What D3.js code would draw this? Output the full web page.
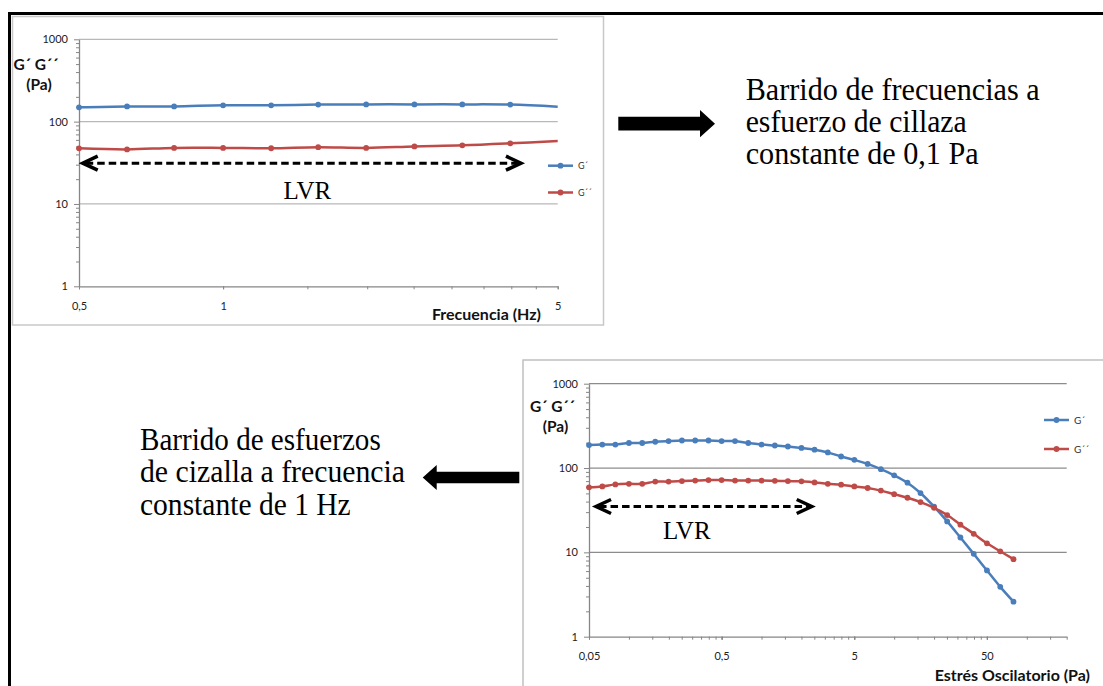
<!DOCTYPE html>
<html>
<head>
<meta charset="utf-8">
<script src="https://cdn.jsdelivr.net/npm/d3@7"></script>
<style>
  body { margin: 0; background: #fff; }
  .tick text { font-family: Lato, "Open Sans", sans-serif; font-size: 11px; fill: #222; }
</style>
</head>
<body>
<svg id="fig" width="1103" height="686"></svg>
<script>
// barrido de frecuencias, esfuerzo 0,1 Pa
const freq = [0.5, 0.63, 0.79, 1.0, 1.26, 1.58, 1.99, 2.51, 3.16, 3.98, 5.0];
const freqG1 = [149, 153, 153, 158, 158, 161, 162, 162, 162, 161, 152];
const freqG2 = [47.4, 46, 48, 48, 47.5, 49, 48, 50, 51.5, 54.5, 58.3];

// barrido de esfuerzos, 1 Hz
const stress = [0.05, 0.063, 0.079, 0.1, 0.126, 0.158, 0.199, 0.251, 0.316, 0.398, 0.5,
  0.631, 0.794, 1.0, 1.26, 1.58, 2.0, 2.51, 3.16, 3.98, 5.01, 6.31, 7.94, 10.0, 12.6,
  15.8, 20.0, 25.1, 31.6, 39.8, 50.1, 63.1, 79.4];
const stressG1 = [187, 190, 190, 198, 198, 205, 209, 212, 212, 212, 209, 209, 198, 190,
  185, 180, 173, 165, 153, 137, 125, 112, 97, 82, 67, 50.5, 34.8, 23.3, 15.0, 9.6, 6.1, 3.9, 2.6];
const stressG2 = [59, 60.5, 64, 65, 65, 69, 69, 70, 71, 72, 72, 71, 71, 71, 70.5, 70, 69.5,
  67.5, 65, 63.4, 60.5, 58, 54, 49, 44.4, 39.5, 33.8, 27.7, 21.3, 16.6, 12.8, 10.3, 8.3];

const seriesNames = ["G´", "G´´"];
const seriesColors = ["#4A7EBB", "#BE4B48"];
const yTicks = [1, 10, 100, 1000];
const yTickLabels = ["1", "10", "100", "1000"];
const freqTicks = [0.5, 1, 5];
const freqTickLabels = ["0,5", "1", "5"];
const stressTicks = [0.05, 0.5, 5, 50];
const stressTickLabels = ["0,05", "0,5", "5", "50"];

const topNote = ["Barrido de frecuencias a", "esfuerzo de cillaza", "constante de 0,1 Pa"];
const bottomNote = ["Barrido de esfuerzos", "de cizalla a frecuencia", "constante de 1 Hz"];

const svg = d3.select("#fig");
const sans = 'Lato, "Open Sans", sans-serif';
const serif = '"Liberation Serif", "Times New Roman", serif';

// marco negro exterior
svg.append("line").attr("x1", 8).attr("y1", 13.5).attr("x2", 1110).attr("y2", 13.5)
  .attr("stroke", "#000").attr("stroke-width", 3);
svg.append("line").attr("x1", 9.5).attr("y1", 12).attr("x2", 9.5).attr("y2", 700)
  .attr("stroke", "#000").attr("stroke-width", 3);

// marcos de los graficos
svg.append("rect").attr("x", 12.5).attr("y", 16.5).attr("width", 591).attr("height", 308.5)
  .attr("fill", "#fff").attr("stroke", "#c8c8c8").attr("stroke-width", 1.5);
svg.append("rect").attr("x", 523).attr("y", 360).attr("width", 600).attr("height", 400)
  .attr("fill", "#fff").attr("stroke", "#c0c0c0").attr("stroke-width", 1.5);

// minor ticks en log: multiplos del inicio de cada decada
function minorTicks(lo, hi) {
  const out = [];
  for (let s = lo; s < hi; s *= 10) {
    for (let k = 1; k <= 10; k++) {
      const v = s * k;
      if (v <= hi * 1.0001) out.push(v);
    }
  }
  return out;
}

function drawPanel(cfg) {
  const g = svg.append("g");
  const x = d3.scaleLog().domain(cfg.xDomain).range([cfg.left, cfg.right]);
  const y = d3.scaleLog().domain([1, 1000]).range([cfg.bottom, cfg.top]);

  // gridlines
  g.selectAll(".grid").data([10, 100, 1000]).join("line")
    .attr("x1", cfg.left).attr("x2", cfg.right)
    .attr("y1", d => y(d)).attr("y2", d => y(d))
    .attr("stroke", cfg.gridColor).attr("stroke-width", 1.3);

  // eje y: menores y mayores
  const yMinor = [];
  [1, 10, 100].forEach(d => { for (let k = 2; k <= 9; k++) yMinor.push(d * k); });
  g.append("g").attr("transform", `translate(${cfg.left},0)`)
    .call(d3.axisLeft(y).tickValues(yMinor).tickSize(3).tickFormat(""))
    .call(a => a.select(".domain").remove());
  g.append("g").attr("transform", `translate(${cfg.left},0)`)
    .call(d3.axisLeft(y).tickValues(yTicks).tickFormat((d, i) => yTickLabels[i])
      .tickSize(5).tickSizeOuter(0).tickPadding(6));

  // eje x
  g.append("g").attr("transform", `translate(0,${cfg.bottom})`)
    .call(d3.axisBottom(x).tickValues(minorTicks(cfg.xDomain[0], cfg.xDomain[1])).tickSize(3).tickFormat(""))
    .call(a => a.select(".domain").remove());
  g.append("g").attr("transform", `translate(0,${cfg.bottom})`)
    .call(d3.axisBottom(x).tickValues(cfg.xTicks).tickFormat((d, i) => cfg.xTickLabels[i])
      .tickSize(3).tickSizeOuter(0).tickPadding(13));

  g.selectAll(".domain").attr("stroke", "#868686").attr("stroke-width", 1.3);
  g.selectAll(".tick line").attr("stroke", "#868686");

  // titulos de ejes
  g.append("text").text("G´ G´´")
    .attr("x", cfg.left - cfg.yTitleDx).attr("y", cfg.top + cfg.yTitleDy)
    .attr("text-anchor", "middle").attr("font-family", sans)
    .attr("font-weight", "bold").attr("font-size", 15.5).attr("fill", "#111");
  g.append("text").text("(Pa)")
    .attr("x", cfg.left - cfg.yTitleDx + 3).attr("y", cfg.top + cfg.yTitleDy + 20)
    .attr("text-anchor", "middle").attr("font-family", sans)
    .attr("font-weight", "bold").attr("font-size", 15.5).attr("fill", "#111");
  g.append("text").text(cfg.xTitle)
    .attr("x", cfg.xTitleX).attr("y", cfg.bottom + cfg.xTitleDy)
    .attr("text-anchor", "end").attr("font-family", sans)
    .attr("font-weight", "bold").attr("font-size", 16).attr("fill", "#111");

  // series
  const line = d3.line().x(d => x(d[0])).y(d => y(d[1])).curve(d3.curveCatmullRom.alpha(0.5));
  cfg.series.forEach((vals, s) => {
    const pts = cfg.xs.map((v, i) => [v, vals[i]]);
    g.append("path").datum(pts).attr("d", line)
      .attr("fill", "none").attr("stroke", seriesColors[s]).attr("stroke-width", 2.5);
    g.selectAll(null).data(pts.filter(p => p[0] < cfg.xDomain[1] * 0.999)).join("circle")
      .attr("cx", d => x(d[0])).attr("cy", d => y(d[1])).attr("r", 2.9)
      .attr("fill", seriesColors[s]);
  });

  // leyenda
  seriesNames.forEach((name, s) => {
    const ly = cfg.legendY + s * cfg.legendGap;
    g.append("line").attr("x1", cfg.legendX).attr("x2", cfg.legendX + 25)
      .attr("y1", ly).attr("y2", ly).attr("stroke", seriesColors[s]).attr("stroke-width", 2.5);
    g.append("circle").attr("cx", cfg.legendX + 12.5).attr("cy", ly).attr("r", 2.9)
      .attr("fill", seriesColors[s]);
    g.append("text").text(name).attr("x", cfg.legendX + 30).attr("y", ly + 3.5)
      .attr("font-family", sans).attr("font-size", cfg.legendFont).attr("fill", "#333");
  });

  // flecha LVR discontinua
  const ay = y(cfg.lvr.level), ax0 = x(cfg.lvr.from), ax1 = x(cfg.lvr.to);
  g.append("line").attr("x1", ax0 + 3).attr("x2", ax1 - 3).attr("y1", ay).attr("y2", ay)
    .attr("stroke", "#000").attr("stroke-width", 3).attr("stroke-dasharray", "7.5 4");
  g.append("path").attr("d", `M${ax0 + 15},${ay - 7} L${ax0},${ay} L${ax0 + 15},${ay + 7}`)
    .attr("fill", "none").attr("stroke", "#000").attr("stroke-width", 3.5);
  g.append("path").attr("d", `M${ax1 - 15},${ay - 7} L${ax1},${ay} L${ax1 - 15},${ay + 7}`)
    .attr("fill", "none").attr("stroke", "#000").attr("stroke-width", 3.5);
  g.append("text").text("LVR")
    .attr("x", x(cfg.lvr.labelX)).attr("y", y(cfg.lvr.labelY))
    .attr("text-anchor", "middle").attr("font-family", serif).attr("font-size", 25).attr("fill", "#000");
}

drawPanel({
  xDomain: [0.5, 5], left: 79, right: 557.7, top: 39.3, bottom: 286.3,
  xTicks: freqTicks, xTickLabels: freqTickLabels,
  xs: freq, series: [freqG1, freqG2],
  gridColor: "#b8b8b8",
  xTitle: "Frecuencia (Hz)", xTitleX: 541, xTitleDy: 34,
  yTitleDx: 43, yTitleDy: 31,
  legendX: 548, legendY: 165.7, legendGap: 26.8, legendFont: 9,
  lvr: { from: 0.509, to: 4.19, level: 31.3, labelX: 1.5, labelY: 11.6 }
});

drawPanel({
  xDomain: [0.05, 200], left: 589, right: 1066.7, top: 383.7, bottom: 636.7,
  xTicks: stressTicks, xTickLabels: stressTickLabels,
  xs: stress, series: [stressG1, stressG2],
  gridColor: "#8c8c8c",
  xTitle: "Estrés Oscilatorio (Pa)", xTitleX: 1090, xTitleDy: 44,
  yTitleDx: 36.5, yTitleDy: 28,
  legendX: 1044, legendY: 420, legendGap: 29, legendFont: 10,
  lvr: { from: 0.0565, to: 2.39, level: 35, labelX: 0.273, labelY: 14.5 }
});

// textos explicativos
function note(lines, x0, y0, widths) {
  lines.forEach((t, i) => {
    svg.append("text").text(t)
      .attr("x", x0).attr("y", y0 + i * 32.3)
      .attr("font-family", serif).attr("font-size", 32).attr("fill", "#000")
      .attr("textLength", widths[i]).attr("lengthAdjust", "spacingAndGlyphs");
  });
}
note(topNote, 745.7, 99.5, [294, 221, 233]);
note(bottomNote, 140, 450, [240.7, 265, 210.7]);

// flechas negras
svg.append("path")
  .attr("d", "M618.3,116.7 L700,116.7 L700,110 L715,123.7 L700,137.3 L700,130.4 L618.3,130.4 Z")
  .attr("fill", "#000");
svg.append("path")
  .attr("d", "M519.3,471.7 L436.7,471.7 L436.7,465 L422.7,477.5 L436.7,490 L436.7,483.3 L519.3,483.3 Z")
  .attr("fill", "#000");
</script>
</body>
</html>
